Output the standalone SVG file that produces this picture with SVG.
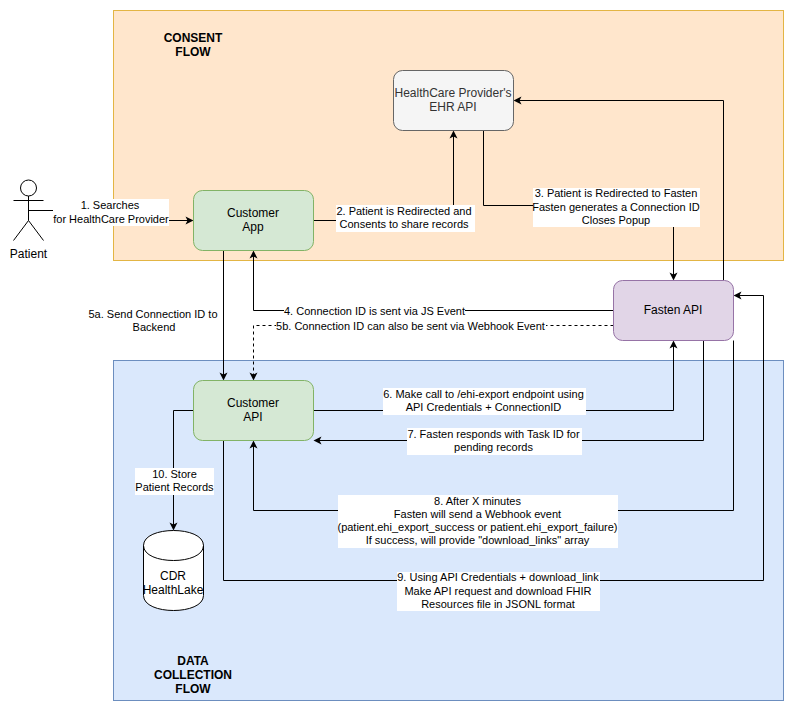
<svg xmlns="http://www.w3.org/2000/svg" width="794" height="711" viewBox="0 0 794 711">
<style>
text{font-family:"Liberation Sans",Arial,sans-serif;text-anchor:middle;fill:#000}
.l{font-size:11px}
.n{font-size:12px}
.t{font-size:12px;font-weight:bold}
.c{fill:none;stroke:#000;stroke-width:1;marker-end:url(#a)}
.d{stroke-dasharray:3 3}
.w{fill:#fff;stroke:none}
.g{fill:#d5e8d4;stroke:#82b366}
.s{fill:none;stroke:#000}
</style>
<defs>
<marker id="a" markerUnits="userSpaceOnUse" markerWidth="10" markerHeight="10" refX="6" refY="5" orient="auto"><path d="M1 1L9 5L1 9L3 5Z" fill="#000" stroke="none"/></marker>
</defs>
<rect width="794" height="711" fill="#fff"/>
<g id="consent-flow">
<rect x="113.5" y="10.5" width="670" height="250" fill="#ffe6cc" stroke="#d79b00" stroke-opacity=".7"/>
<text class="t" x="193" y="42">CONSENT</text><text class="t" x="193" y="56">FLOW</text>
</g>
<g id="data-collection-flow">
<rect x="113.5" y="360.5" width="670" height="340" fill="#dae8fc" stroke="#6c8ebf"/>
<text class="t" x="193" y="665">DATA</text><text class="t" x="193" y="679">COLLECTION</text><text class="t" x="193" y="693">FLOW</text>
</g>
<g id="connectors">
<path class="c" d="M28.5 210.5H111V220.5H190.5"/>
<path class="c" d="M313.5 220.5H453.5V133.5"/>
<path class="c" d="M483.5 130.5V205.5H673.5V277.5"/>
<path class="c" d="M723.5 280.5V100.5H516.5"/>
<path class="c" d="M613.5 310.5H253.5V253.5"/>
<path class="c d" d="M613.5 325.5H253.5V377.5"/>
<path class="c" d="M223.5 250.5V377.5"/>
<path class="c" d="M313.5 410.5H673.5V343.5"/>
<path class="c" d="M703.5 340.5V440.5H316.5"/>
<path class="c" d="M733.5 340.5V510.5H253.5V443.5"/>
<path class="c" d="M223.5 440.5V580.5H763.5V295.5H736.5"/>
<path class="c" d="M193.5 410.5H173.5V527.5"/>
<g id="labels">
<rect class="w" x="53" y="199" width="116" height="27"/>
<text class="l" x="110" y="209">1. Searches</text><text class="l" x="111" y="222.500">for HealthCare Provider</text>
<rect class="w" x="336" y="205" width="139" height="27"/>
<text class="l" x="404" y="215">2. Patient is Redirected and</text><text class="l" x="404" y="228">Consents to share records</text>
<rect class="w" x="533" y="188" width="167" height="39"/>
<text class="l" x="616" y="197">3. Patient is Redirected to Fasten</text><text class="l" x="616" y="211">Fasten generates a Connection ID</text><text class="l" x="616" y="224">Closes Popup</text>
<rect class="w" x="284" y="304" width="181" height="13"/>
<text class="l" x="374.500" y="315">4. Connection ID is sent via JS Event</text>
<rect class="w" x="276" y="319" width="270" height="13"/>
<text class="l" x="410.500" y="330">5b. Connection ID can also be sent via Webhook Event</text>
<text class="l" x="153" y="318">5a. Send Connection ID to</text><text class="l" x="154" y="331">Backend</text>
<rect class="w" x="383" y="388" width="203" height="27"/>
<text class="l" x="483.500" y="398">6. Make call to /ehi-export endpoint using</text><text class="l" x="483.500" y="411">API Credentials + ConnectionID</text>
<rect class="w" x="407" y="428" width="175" height="27"/>
<text class="l" x="493.500" y="438">7. Fasten responds with Task ID for</text><text class="l" x="493.500" y="451">pending records</text>
<rect class="w" x="338" y="495" width="280" height="53"/>
<text class="l" x="477.500" y="505">8. After X minutes</text><text class="l" x="477.500" y="518">Fasten will send a Webhook event</text><text class="l" x="477.500" y="531">(patient.ehi_export_success or patient.ehi_export_failure)</text><text class="l" x="477.500" y="544">If success, will provide "download_links" array</text>
<rect class="w" x="397" y="572" width="203" height="39"/>
<text class="l" x="498" y="581">9. Using API Credentials + download_link</text><text class="l" x="498" y="595">Make API request and download FHIR</text><text class="l" x="498" y="608">Resources file in JSONL format</text>
<rect class="w" x="135" y="468" width="79" height="27"/>
<text class="l" x="174.500" y="478">10. Store</text><text class="l" x="174.500" y="491">Patient Records</text>
</g>
</g>
<g id="patient">
<circle class="s" cx="28.500" cy="188" r="8"/>
<path class="s" d="M28.500 196V220.500M13.500 200.500H43.500M28.500 220.500L13.500 240.500M28.500 220.500L43.500 240.500"/>
<text class="n" x="28.500" y="258">Patient</text>
</g>
<g id="customer-app">
<rect class="g" x="193.500" y="190.500" width="120" height="60" rx="9"/>
<text class="n" x="253" y="217">Customer</text><text class="n" x="253" y="231">App</text>
</g>
<g id="ehr-api">
<rect x="393.500" y="70.500" width="120" height="60" rx="9" fill="#f5f5f5" stroke="#666"/>
<text class="n" x="453" y="97" style="fill:#333">HealthCare Provider's</text><text class="n" x="453" y="111" style="fill:#333">EHR API</text>
</g>
<g id="fasten-api">
<rect x="613.500" y="280.500" width="120" height="60" rx="9" fill="#e1d5e7" stroke="#9673a6"/>
<text class="n" x="673" y="314">Fasten API</text>
</g>
<g id="customer-api">
<rect class="g" x="193.500" y="380.500" width="120" height="60" rx="9"/>
<text class="n" x="253" y="407">Customer</text><text class="n" x="253" y="421">API</text>
</g>
<g id="cdr-healthlake">
<path d="M143.500 545.500C143.500 525.500 203.500 525.500 203.500 545.500V595.500C203.500 615.500 143.500 615.500 143.500 595.500Z" fill="#fff" stroke="#000"/>
<path class="s" d="M143.500 545.500C143.500 565.500 203.500 565.500 203.500 545.500"/>
<text class="n" x="173" y="580">CDR</text><text class="n" x="173" y="594">HealthLake</text>
</g>
</svg>
